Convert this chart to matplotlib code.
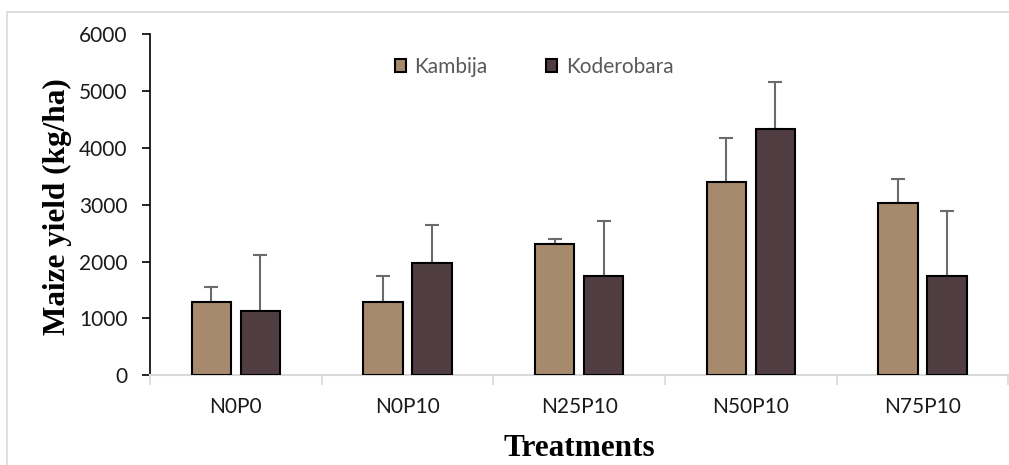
import matplotlib
matplotlib.use("Agg")
import matplotlib.pyplot as plt
import numpy as np
from matplotlib.patches import Rectangle

# Maize yield by treatment at two sites
treatments = ["N0P0", "N0P10", "N25P10", "N50P10", "N75P10"]
kambija = [1292, 1281, 2300, 3406, 3025]
kambija_err = [264, 458, 100, 770, 429]
koderobara = [1133, 1968, 1739, 4329, 1739]
koderobara_err = [976, 669, 980, 828, 1146]
yticks = [0, 1000, 2000, 3000, 4000, 5000, 6000]

W, H = 1009, 465
fig = plt.figure(figsize=(W / 100, H / 100), dpi=100)
fig.patch.set_facecolor("white")

# outer chart frame
fig.patches.append(Rectangle((7 / W, -0.01), 1.1, 1 - 12 / H + 0.01,
                             transform=fig.transFigure, fill=False,
                             edgecolor="#d9d9d9", linewidth=1.2))

ax = fig.add_axes([150 / W, 1 - 375 / H, 858.3 / W, (375 - 34.5) / H])

x = np.arange(len(treatments))
bw = 0.229
off = 0.143
tan = "#a78a6d"
dark = "#4f3d41"
errc = "#6b6b6b"
tick_font = "Lato"
tick_size = 15

ax.bar(x - off, kambija, bw, color=tan, edgecolor="black", linewidth=1.5,
       label="Kambija", zorder=3)
ax.bar(x + off, koderobara, bw, color=dark, edgecolor="black", linewidth=1.5,
       label="Koderobara", zorder=3)
ax.errorbar(x - off, kambija, yerr=[np.zeros(len(x)), kambija_err], fmt="none",
            ecolor=errc, elinewidth=1.5, capsize=4.7, capthick=1.5, zorder=2)
ax.errorbar(x + off, koderobara, yerr=[np.zeros(len(x)), koderobara_err], fmt="none",
            ecolor=errc, elinewidth=1.5, capsize=4.7, capthick=1.5, zorder=2)

ax.set_xlim(-0.5, len(x) - 0.5)
ax.set_ylim(0, 6000)
ax.set_yticks(yticks)
ax.set_yticklabels([str(v) for v in yticks], fontfamily=tick_font,
                   fontsize=tick_size, color="#1a1a1a")
ax.tick_params(axis="y", direction="out", length=6, width=1.2, color="black", pad=10)

# category labels centered, separator ticks between categories
ax.set_xticks(x)
ax.set_xticklabels(treatments, fontfamily=tick_font, fontsize=tick_size, color="#1a1a1a")
ax.tick_params(axis="x", length=0, pad=16)
ax.set_xticks(np.arange(-0.5, len(x) + 0.5, 1), minor=True)
ax.tick_params(axis="x", which="minor", direction="out", length=7, width=1.2,
               color="#d9d9d9")

for s in ["top", "right"]:
    ax.spines[s].set_visible(False)
ax.spines["left"].set_color("black")
ax.spines["left"].set_linewidth(1.2)
ax.spines["bottom"].set_color("#d9d9d9")
ax.spines["bottom"].set_linewidth(1.5)

fig.text(57 / W, 1 - 207 / H, "Maize yield (kg/ha)", rotation=90,
         ha="center", va="center", fontfamily="Liberation Serif",
         fontweight="bold", fontsize=22.5, color="black")
fig.text(579 / W, 1 - 448 / H, "Treatments", ha="center", va="center",
         fontfamily="Liberation Serif", fontweight="bold", fontsize=22.5, color="black")

leg = ax.legend(loc="center", bbox_to_anchor=((534 - 150) / 858.3, (375 - 67) / 340.5),
                ncol=2, frameon=False, handlelength=0.55, handleheight=0.55,
                columnspacing=2.8, handletextpad=0.4,
                prop={"family": tick_font, "size": tick_size})
for t in leg.get_texts():
    t.set_color("#595959")
for h in leg.legend_handles:
    h.set_linewidth(1.5)

fig.savefig("out.png", dpi=100, facecolor="white")
